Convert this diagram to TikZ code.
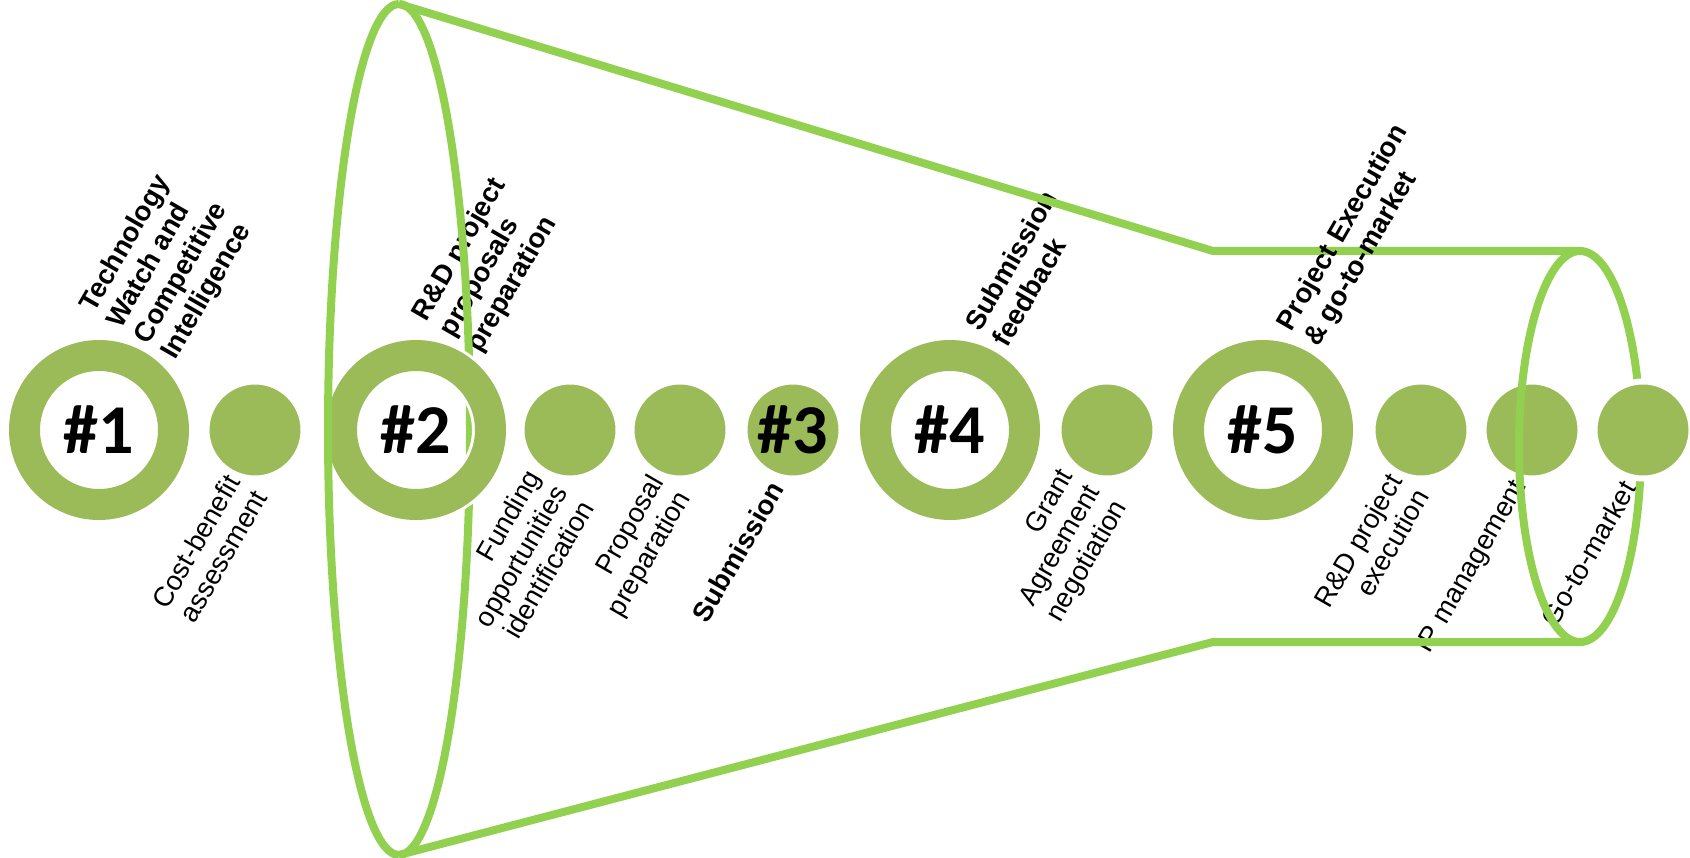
\documentclass[tikz,border=0pt]{standalone}
\usepackage{fontspec}
\setmainfont{Liberation Sans}
\newfontfamily\numfont{Carlito}
\definecolor{ringgreen}{HTML}{9BBB59}
\definecolor{linegreen}{HTML}{92D050}
\tikzset{
  funnel/.style={draw=linegreen, line width=8pt},
  numtext/.style={font=\numfont\fontsize{70}{70}\selectfont\bfseries},
  ringnode/.style={circle, draw=white, line width=3pt, double=ringgreen, double distance=31pt, minimum size=149pt, inner sep=0pt, numtext},
  dotnode/.style={circle, fill=ringgreen, draw=white, line width=6pt, minimum size=97pt, inner sep=0pt},
  toplabel/.style={rotate=60, anchor=south west, align=left, inner sep=0pt, font=\fontsize{27.5}{31.5}\selectfont\bfseries},
  botlabel/.style={rotate=60, anchor=north east, align=right, inner sep=0pt, font=\fontsize{27.5}{31}\selectfont},
}
\begin{document}
\begin{tikzpicture}[x=1pt,y=-1pt]
\useasboundingbox (0,0) rectangle (1690,858);
% ---- labels (below the funnel lines)
\node[toplabel] (t1) at (181,364) {Technology\\Watch and\\Competitive\\Intelligence};
\node[toplabel] (t2) at (486,357) {R\&D project\\proposals\\preparation};
\node[toplabel] (t3) at (1008,349) {Submission\\feedback};
\node[botlabel] (b1) at (224,472) {Cost-benefit\\assessment};
\node[botlabel] (b2) at (524,467) {Funding\\opportunities\\identification};
\node[botlabel] (b3) at (647,472) {Proposal\\preparation};
\node[botlabel, font=\fontsize{27.5}{31}\selectfont\bfseries] (b4) at (768,479) {Submission};
\node[botlabel] (b5) at (1057,466) {Grant\\Agreement\\negotiation};
\node[botlabel] (b6) at (1386,471) {R\&D project\\execution};
\node[botlabel] (b7) at (1510,477) {IP management};
\node[botlabel] (b8) at (1620,478) {Go-to-market};
% ---- funnel outline (back part)
\coordinate (LT) at (399,4);
\coordinate (LB) at (399,855);
\coordinate (KT) at (1213,251);
\coordinate (KB) at (1213,642);
\coordinate (RT) at (1580,251);
\coordinate (RB) at (1580,642);
\draw[funnel] (LT) arc[start angle=90, end angle=-90, x radius=71pt, y radius=425.5pt];
\draw[funnel] (LB) -- (KB) -- (RB) arc[start angle=-90, end angle=90, x radius=61pt, y radius=195.5pt] -- (KT) -- (LT);
% ---- label drawn over the line
\node[toplabel] (t4) at (1324,351) {Project Execution\\\& go-to-market};
% ---- steps
\node[ringnode] (n1) at (99,430) {\#1};
\node[dotnode] (s1) at (255,430) {};
\node[ringnode] (n2) at (416,430) {\#2};
\node[dotnode] (s2) at (570,430) {};
\node[dotnode] (s3) at (680,430) {};
\node[dotnode, numtext] (n3) at (793,430) {\#3};
\node[ringnode] (n4) at (950,430) {\#4};
\node[dotnode] (s4) at (1107,430) {};
\node[ringnode] (n5) at (1263,430) {\#5};
\node[dotnode] (s5) at (1421,430) {};
\node[dotnode] (s6) at (1532,430) {};
\node[dotnode] (s7) at (1643,430) {};
% ---- funnel outline (front part)
\draw[funnel] (LT) arc[start angle=90, end angle=270, x radius=71pt, y radius=425.5pt];
\draw[funnel] (RT) arc[start angle=90, end angle=270, x radius=61pt, y radius=195.5pt];
\end{tikzpicture}
\end{document}
